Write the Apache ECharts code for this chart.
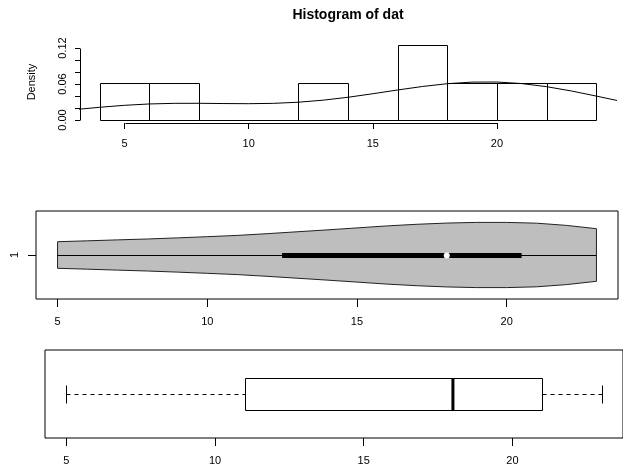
<!DOCTYPE html>
<html>
<head>
<meta charset="utf-8">
<script src="https://cdn.jsdelivr.net/npm/echarts@6/dist/echarts.min.js"></script>
<style>
  html, body { margin: 0; padding: 0; background: #fff; }
  #chart { width: 623px; height: 467px; }
</style>
</head>
<body>
<div id="chart"></div>
<script>
// Sample values
const dat = [5, 8, 14, 18, 18, 20, 22, 23];

// Histogram bins (breaks) and their densities
const histBreaks = [4, 6, 8, 10, 12, 14, 16, 18, 20, 22, 24];
const histDensity = [0.0625, 0.0625, 0, 0, 0.0625, 0, 0.125, 0.0625, 0.0625, 0.0625];

// Kernel density estimate of dat (drawn over the histogram)
const densX = [3, 4, 5, 6, 7, 8, 9, 10, 11, 12, 13, 14, 15, 16, 17, 18, 19, 20, 21, 22, 23, 24, 25];
const densY = [0.01732, 0.02123, 0.02450, 0.02672, 0.02777, 0.02784, 0.02742, 0.02717, 0.02775,
               0.02964, 0.03306, 0.03789, 0.04376, 0.05001, 0.05587, 0.06050, 0.06315, 0.06330,
               0.06072, 0.05557, 0.04839, 0.03994, 0.03115];

// Violin outline: its own smoother density estimate, over the data range
const violinX = [5, 6, 7, 8, 9, 10, 11, 12, 13, 14, 15, 16, 17, 18, 19, 20, 21, 22, 23];
const violinDensity = [0.0253, 0.0270, 0.0288, 0.0305, 0.0326, 0.0349, 0.0373, 0.0406, 0.0442, 0.0478,
                       0.0516, 0.0554, 0.0585, 0.0608, 0.0621, 0.0621, 0.0606, 0.0564, 0.0501];

// Violin summary: min, Q1, median, Q3, max
const violinStats = [5, 12.5, 18, 20.5, 23];
// Boxplot five-number summary: min, lower hinge, median, upper hinge, max
const boxStats = [5, 11, 18, 21, 23];

// Axis ticks and labels
const xTicks = [5, 10, 15, 20];
const histYTicks = [0, 0.02, 0.04, 0.06, 0.08, 0.10, 0.12];
const histYLabels = [0, 0.06, 0.12];
const violinGroups = ['1'];

const FONT = "'Liberation Sans', Arial, Helvetica, sans-serif";
const INK = '#000';

const px = v => Math.round(v) + 0.5;

const labelStyle = { color: INK, fontSize: 11, fontFamily: FONT };

function valueAxis(gridIndex, min, max, extra) {
  return Object.assign({
    type: 'value', gridIndex, min, max,
    axisLine: { show: false, onZero: false },
    splitLine: { show: false }
  }, extra);
}

const chart = echarts.init(document.getElementById('chart'), null, { renderer: 'canvas' });

chart.setOption({
  animation: false,
  backgroundColor: '#fff',
  grid: [
    { left: 80, top: 42, width: 536, height: 81 },
    { left: 36, top: 211, width: 582, height: 88, show: true, borderColor: INK, borderWidth: 1 },
    { left: 45, top: 350, width: 580, height: 88, show: true, borderColor: INK, borderWidth: 1 }
  ],
  xAxis: [
    valueAxis(0, 3.2, 24.8, {
      axisTick: { customValues: xTicks, length: 6, lineStyle: { color: INK } },
      axisLabel: Object.assign({ customValues: xTicks, margin: 15 }, labelStyle)
    }),
    valueAxis(1, 4.28, 23.72, {
      axisTick: { customValues: xTicks, length: 8, lineStyle: { color: INK } },
      axisLabel: Object.assign({ customValues: xTicks, margin: 17 }, labelStyle)
    }),
    valueAxis(2, 4.28, 23.72, {
      axisTick: { customValues: xTicks, length: 8, lineStyle: { color: INK } },
      axisLabel: Object.assign({ customValues: xTicks, margin: 17 }, labelStyle)
    })
  ],
  yAxis: [
    valueAxis(0, -0.005, 0.13, {
      axisTick: { customValues: histYTicks, length: 5, lineStyle: { color: INK } },
      axisLabel: Object.assign({
        customValues: histYLabels, rotate: 90, margin: 12,
        formatter: v => Number(v).toFixed(2)
      }, labelStyle)
    }),
    valueAxis(1, -0.0838, 0.0838, {
      axisTick: { customValues: [0], length: 8, lineStyle: { color: INK } },
      axisLabel: Object.assign({
        customValues: [0], rotate: 90, margin: 16,
        formatter: () => violinGroups[0]
      }, labelStyle)
    }),
    valueAxis(2, -1, 1, { show: false })
  ],
  graphic: [
    {
      type: 'text', x: 348, y: 15,
      style: { text: 'Histogram of dat', font: 'bold 14px ' + FONT, fill: INK,
               textAlign: 'center', textVerticalAlign: 'middle', align: 'center', verticalAlign: 'middle' }
    },
    {
      type: 'text', x: 32, y: 82, rotation: Math.PI / 2,
      style: { text: 'Density', font: '11px ' + FONT, fill: INK,
               textAlign: 'center', textVerticalAlign: 'middle', align: 'center', verticalAlign: 'middle' }
    }
  ],
  series: [
    // histogram bars
    {
      type: 'custom', xAxisIndex: 0, yAxisIndex: 0, clip: false,
      data: histDensity.map((d, i) => [histBreaks[i], histBreaks[i + 1], d]),
      encode: { x: [0, 1], y: 2 },
      renderItem(params, api) {
        const a = api.coord([api.value(0), api.value(2)]);
        const b = api.coord([api.value(1), 0]);
        const x0 = px(a[0]), x1 = px(b[0]), y0 = px(a[1]), y1 = px(b[1]);
        return {
          type: 'rect',
          shape: { x: x0, y: y0, width: x1 - x0, height: y1 - y0 },
          style: { fill: 'none', stroke: INK, lineWidth: 1 }
        };
      }
    },
    // density curve
    {
      type: 'line', xAxisIndex: 0, yAxisIndex: 0,
      data: densX.map((x, i) => [x, densY[i]]),
      showSymbol: false, symbol: 'none', clip: true,
      lineStyle: { color: INK, width: 1 }
    },
    // histogram axis lines (span first to last tick)
    {
      type: 'custom', xAxisIndex: 0, yAxisIndex: 0, clip: false, silent: true,
      data: [[xTicks[0], 0]],
      renderItem(params, api) {
        const yBase = -0.005, xBase = 3.2;
        const xa = api.coord([xTicks[0], yBase]), xb = api.coord([xTicks[xTicks.length - 1], yBase]);
        const ya = api.coord([xBase, histYTicks[0]]), yb = api.coord([xBase, histYTicks[histYTicks.length - 1]]);
        return {
          type: 'group', children: [
            { type: 'line', shape: { x1: px(xa[0]), y1: px(xa[1]), x2: px(xb[0]), y2: px(xb[1]) },
              style: { stroke: INK, lineWidth: 1 } },
            { type: 'line', shape: { x1: px(ya[0]), y1: px(ya[1]), x2: px(yb[0]), y2: px(yb[1]) },
              style: { stroke: INK, lineWidth: 1 } }
          ]
        };
      }
    },
    // violin
    {
      type: 'custom', xAxisIndex: 1, yAxisIndex: 1, clip: false,
      data: [[violinStats[2], 0]],
      renderItem(params, api) {
        const pts = [];
        violinX.forEach((x, i) => pts.push(api.coord([x, violinDensity[i]])));
        for (let i = violinX.length - 1; i >= 0; i--) {
          pts.push(api.coord([violinX[i], -violinDensity[i]]));
        }
        const lo = api.coord([violinStats[0], 0]);
        const q1 = api.coord([violinStats[1], 0]);
        const med = api.coord([violinStats[2], 0]);
        const q3 = api.coord([violinStats[3], 0]);
        const hi = api.coord([violinStats[4], 0]);
        const cy = px(lo[1]);
        return {
          type: 'group', children: [
            { type: 'polygon', shape: { points: pts },
              style: { fill: '#bebebe', stroke: '#222', lineWidth: 1 } },
            { type: 'line', shape: { x1: lo[0], y1: cy, x2: hi[0], y2: cy },
              style: { stroke: INK, lineWidth: 1 } },
            { type: 'line', shape: { x1: q1[0], y1: cy, x2: q3[0], y2: cy },
              style: { stroke: INK, lineWidth: 5 } },
            { type: 'circle', shape: { cx: med[0], cy: cy, r: 3 },
              style: { fill: '#fff', stroke: 'none' } }
          ]
        };
      }
    },
    // horizontal boxplot
    {
      type: 'custom', xAxisIndex: 2, yAxisIndex: 2, clip: false,
      data: [[boxStats[2], 0]],
      renderItem(params, api) {
        const half = 0.364, cap = 0.2;
        const c = v => api.coord([v, 0]);
        const top = api.coord([boxStats[1], half])[1];
        const bot = api.coord([boxStats[1], -half])[1];
        const capT = api.coord([boxStats[0], cap])[1];
        const capB = api.coord([boxStats[0], -cap])[1];
        const mn = c(boxStats[0]), q1 = c(boxStats[1]), md = c(boxStats[2]), q3 = c(boxStats[3]), mx = c(boxStats[4]);
        const cy = px(mn[1]);
        const dash = { stroke: INK, lineWidth: 1, lineDash: [4, 4] };
        const solid = { stroke: INK, lineWidth: 1 };
        return {
          type: 'group', children: [
            { type: 'line', shape: { x1: px(mn[0]), y1: cy, x2: px(q1[0]), y2: cy }, style: dash },
            { type: 'line', shape: { x1: px(q3[0]), y1: cy, x2: px(mx[0]), y2: cy }, style: dash },
            { type: 'line', shape: { x1: px(mn[0]), y1: px(capT), x2: px(mn[0]), y2: px(capB) }, style: solid },
            { type: 'line', shape: { x1: px(mx[0]), y1: px(capT), x2: px(mx[0]), y2: px(capB) }, style: solid },
            { type: 'rect', shape: { x: px(q1[0]), y: px(top), width: px(q3[0]) - px(q1[0]), height: px(bot) - px(top) },
              style: { fill: '#fff', stroke: INK, lineWidth: 1 } },
            { type: 'line', shape: { x1: md[0], y1: px(top), x2: md[0], y2: px(bot) },
              style: { stroke: INK, lineWidth: 3 } }
          ]
        };
      }
    }
  ]
});
</script>
</body>
</html>
